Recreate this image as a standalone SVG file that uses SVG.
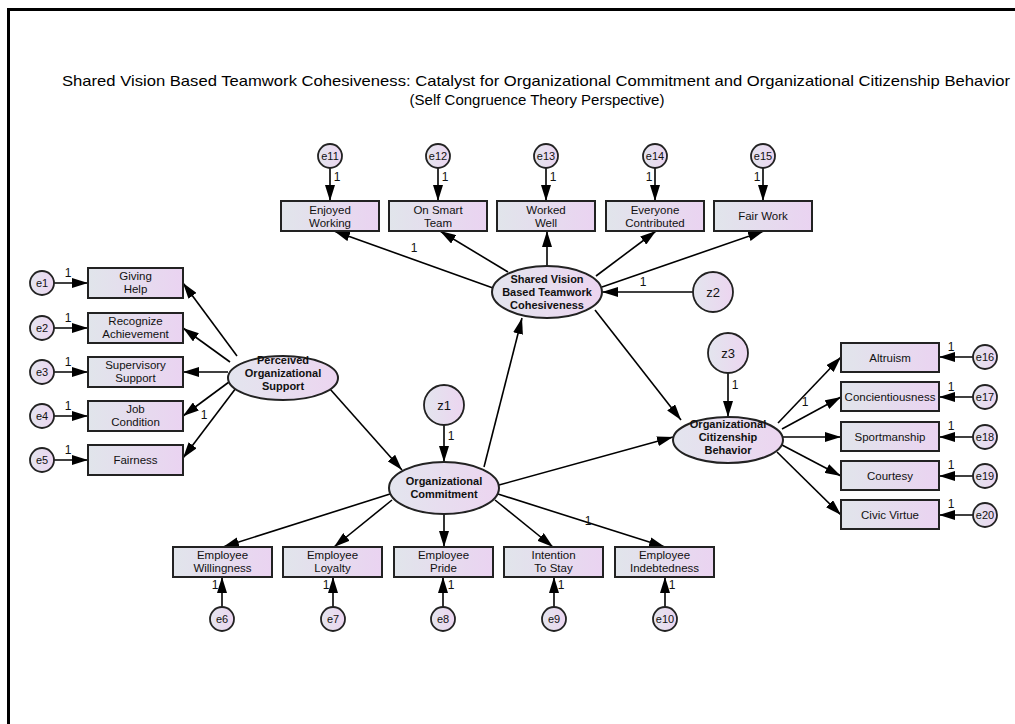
<svg xmlns="http://www.w3.org/2000/svg" width="1015" height="724" viewBox="0 0 1015 724">
<defs>
<linearGradient id="gBox" x1="0" y1="0" x2="1" y2="0">
<stop offset="0" stop-color="#e1e5eb"/>
<stop offset="1" stop-color="#ead3f1"/>
</linearGradient>
<linearGradient id="gEll" x1="0" y1="0" x2="1" y2="0">
<stop offset="0" stop-color="#e3e5ee"/>
<stop offset="1" stop-color="#ecd5f0"/>
</linearGradient>
<marker id="ah" markerUnits="userSpaceOnUse" markerWidth="16" markerHeight="10" refX="16" refY="5" orient="auto">
<path d="M0,0 L16,5 L0,10 z" fill="#000"/>
</marker>
<style>
.box{fill:url(#gBox);stroke:#222;stroke-width:2}
.lat{fill:url(#gEll);stroke:#222;stroke-width:2}
.err{fill:url(#gEll);stroke:#222;stroke-width:1.8}
.conn line{stroke:#000;stroke-width:1.6;marker-end:url(#ah)}
text{font-family:"Liberation Sans",Arial,sans-serif;fill:#111;text-anchor:middle}
.t{font-size:11.5px}
.b{font-size:11px;font-weight:bold}
.e{font-size:11px}
.z{font-size:13px}
.one{font-size:12px}
.title{font-size:15px;fill:#000}
</style>
</defs>
<rect width="1015" height="724" fill="#fff"/>
<path d="M8.5,724 V9.5 H1015" fill="none" stroke="#000" stroke-width="3"/>
<g id="title">
<text class="title" x="536" y="86" textLength="948" lengthAdjust="spacingAndGlyphs">Shared Vision Based Teamwork Cohesiveness: Catalyst for Organizational Commitment and Organizational Citizenship Behavior</text>
<text class="title" x="537" y="105">(Self Congruence Theory Perspective)</text>
</g>
<g id="connectors" class="conn">
<line x1="237" y1="356" x2="183" y2="283"/>
<line x1="230" y1="362" x2="183" y2="328"/>
<line x1="228" y1="372" x2="183" y2="372"/>
<line x1="229" y1="382" x2="183" y2="416"/>
<line x1="236" y1="388" x2="183" y2="458"/>
<line x1="330" y1="389" x2="402" y2="470"/>
<line x1="484" y1="467" x2="522" y2="318"/>
<line x1="499" y1="485" x2="673" y2="437"/>
<line x1="390" y1="494" x2="223" y2="547"/>
<line x1="392" y1="500" x2="334" y2="547"/>
<line x1="444" y1="514" x2="444" y2="547"/>
<line x1="495" y1="500" x2="553" y2="547"/>
<line x1="498" y1="494" x2="665" y2="547"/>
<line x1="493" y1="288" x2="334" y2="231"/>
<line x1="508" y1="272" x2="440" y2="231"/>
<line x1="547" y1="266" x2="547" y2="231"/>
<line x1="596" y1="276" x2="656" y2="231"/>
<line x1="602" y1="287" x2="764" y2="231"/>
<line x1="595" y1="310" x2="681" y2="420"/>
<line x1="693" y1="292" x2="602" y2="292"/>
<line x1="444" y1="425" x2="444" y2="462"/>
<line x1="728" y1="373" x2="728" y2="417"/>
<line x1="778" y1="423" x2="841" y2="357"/>
<line x1="782" y1="429" x2="841" y2="397"/>
<line x1="783" y1="437" x2="841" y2="437"/>
<line x1="782" y1="445" x2="841" y2="476"/>
<line x1="777" y1="452" x2="841" y2="515"/>
<line x1="330" y1="168" x2="330" y2="201"/>
<line x1="438" y1="168" x2="438" y2="201"/>
<line x1="546" y1="168" x2="546" y2="201"/>
<line x1="655" y1="168" x2="655" y2="201"/>
<line x1="763" y1="168" x2="763" y2="201"/>
<line x1="54" y1="283" x2="88" y2="283"/>
<line x1="54" y1="328" x2="88" y2="328"/>
<line x1="54" y1="372" x2="88" y2="372"/>
<line x1="54" y1="416" x2="88" y2="416"/>
<line x1="54" y1="460" x2="88" y2="460"/>
<line x1="973" y1="357" x2="939" y2="357"/>
<line x1="973" y1="397" x2="939" y2="397"/>
<line x1="973" y1="437" x2="939" y2="437"/>
<line x1="973" y1="476" x2="939" y2="476"/>
<line x1="973" y1="515" x2="939" y2="515"/>
<line x1="222" y1="607" x2="222" y2="577"/>
<line x1="333" y1="607" x2="333" y2="577"/>
<line x1="443" y1="607" x2="443" y2="577"/>
<line x1="554" y1="607" x2="554" y2="577"/>
<line x1="665" y1="607" x2="665" y2="577"/>
</g>
<g id="weights" class="one">
<text class="one" x="414" y="252">1</text>
<text class="one" x="643" y="286">1</text>
<text class="one" x="204" y="419">1</text>
<text class="one" x="451" y="440">1</text>
<text class="one" x="588" y="525">1</text>
<text class="one" x="735" y="389">1</text>
<text class="one" x="805" y="406">1</text>
<text class="one" x="337" y="181">1</text>
<text class="one" x="445" y="181">1</text>
<text class="one" x="553" y="181">1</text>
<text class="one" x="649" y="181">1</text>
<text class="one" x="757" y="181">1</text>
<text class="one" x="68" y="277">1</text>
<text class="one" x="68" y="322">1</text>
<text class="one" x="68" y="366">1</text>
<text class="one" x="68" y="410">1</text>
<text class="one" x="68" y="454">1</text>
<text class="one" x="951" y="351">1</text>
<text class="one" x="951" y="391">1</text>
<text class="one" x="951" y="430">1</text>
<text class="one" x="951" y="469">1</text>
<text class="one" x="951" y="508">1</text>
<text class="one" x="215" y="589">1</text>
<text class="one" x="326" y="589">1</text>
<text class="one" x="451" y="589">1</text>
<text class="one" x="561" y="589">1</text>
<text class="one" x="672" y="589">1</text>
</g>
<g id="e11"><circle class="err" cx="330" cy="156" r="12"/><text class="e" x="330" y="160">e11</text></g>
<g id="e12"><circle class="err" cx="438" cy="156" r="12"/><text class="e" x="438" y="160">e12</text></g>
<g id="e13"><circle class="err" cx="546" cy="156" r="12"/><text class="e" x="546" y="160">e13</text></g>
<g id="e14"><circle class="err" cx="655" cy="156" r="12"/><text class="e" x="655" y="160">e14</text></g>
<g id="e15"><circle class="err" cx="763" cy="156" r="12"/><text class="e" x="763" y="160">e15</text></g>
<g id="enjoyed"><rect class="box" x="281" y="201" width="98" height="30"/><text class="t" x="330" y="214">Enjoyed</text><text class="t" x="330" y="227">Working</text></g>
<g id="smart"><rect class="box" x="389" y="201" width="98" height="30"/><text class="t" x="438" y="214">On Smart</text><text class="t" x="438" y="227">Team</text></g>
<g id="worked"><rect class="box" x="497" y="201" width="98" height="30"/><text class="t" x="546" y="214">Worked</text><text class="t" x="546" y="227">Well</text></g>
<g id="everyone"><rect class="box" x="606" y="201" width="98" height="30"/><text class="t" x="655" y="214">Everyone</text><text class="t" x="655" y="227">Contributed</text></g>
<g id="fairwork"><rect class="box" x="714" y="201" width="98" height="30"/><text class="t" x="763" y="220">Fair Work</text></g>
<g id="e1"><circle class="err" cx="42" cy="283" r="12"/><text class="e" x="42" y="287">e1</text></g>
<g id="e2"><circle class="err" cx="42" cy="328" r="12"/><text class="e" x="42" y="332">e2</text></g>
<g id="e3"><circle class="err" cx="42" cy="372" r="12"/><text class="e" x="42" y="376">e3</text></g>
<g id="e4"><circle class="err" cx="42" cy="416" r="12"/><text class="e" x="42" y="420">e4</text></g>
<g id="e5"><circle class="err" cx="42" cy="460" r="12"/><text class="e" x="42" y="464">e5</text></g>
<g id="giving"><rect class="box" x="88" y="268" width="95" height="30"/><text class="t" x="135.5" y="280">Giving</text><text class="t" x="135.5" y="293">Help</text></g>
<g id="recognize"><rect class="box" x="88" y="313" width="95" height="30"/><text class="t" x="135.5" y="325">Recognize</text><text class="t" x="135.5" y="338">Achievement</text></g>
<g id="supervisory"><rect class="box" x="88" y="357" width="95" height="30"/><text class="t" x="135.5" y="369">Supervisory</text><text class="t" x="135.5" y="382">Support</text></g>
<g id="job"><rect class="box" x="88" y="401" width="95" height="30"/><text class="t" x="135.5" y="413">Job</text><text class="t" x="135.5" y="426">Condition</text></g>
<g id="fairness"><rect class="box" x="88" y="445" width="95" height="30"/><text class="t" x="135.5" y="464">Fairness</text></g>
<g id="pos"><ellipse class="lat" cx="283" cy="378" rx="55" ry="22"/><text class="b" x="283" y="364">Perceived</text><text class="b" x="283" y="377">Organizational</text><text class="b" x="283" y="390">Support</text></g>
<g id="svbtc"><ellipse class="lat" cx="547" cy="292" rx="55" ry="26"/><text class="b" x="547" y="283">Shared Vision</text><text class="b" x="547" y="296">Based Teamwork</text><text class="b" x="547" y="309">Cohesiveness</text></g>
<g id="z2"><circle class="err" cx="713" cy="292" r="20"/><text class="z" x="713" y="297">z2</text></g>
<g id="z3"><circle class="err" cx="728" cy="353" r="20"/><text class="z" x="728" y="358">z3</text></g>
<g id="z1"><circle class="err" cx="444" cy="405" r="20"/><text class="z" x="444" y="410">z1</text></g>
<g id="oc"><ellipse class="lat" cx="444" cy="488" rx="55" ry="26"/><text class="b" x="444" y="485">Organizational</text><text class="b" x="444" y="498">Commitment</text></g>
<g id="ocb"><ellipse class="lat" cx="728" cy="440" rx="55" ry="23"/><text class="b" x="728" y="428">Organizational</text><text class="b" x="728" y="441">Citizenship</text><text class="b" x="728" y="454">Behavior</text></g>
<g id="altruism"><rect class="box" x="841" y="343" width="98" height="29"/><text class="t" x="890" y="361.5">Altruism</text></g>
<g id="concient"><rect class="box" x="841" y="382" width="98" height="29"/><text class="t" x="890" y="400.5">Concientiousness</text></g>
<g id="sport"><rect class="box" x="841" y="422" width="98" height="29"/><text class="t" x="890" y="440.5">Sportmanship</text></g>
<g id="courtesy"><rect class="box" x="841" y="461" width="98" height="29"/><text class="t" x="890" y="479.5">Courtesy</text></g>
<g id="civic"><rect class="box" x="841" y="500" width="98" height="29"/><text class="t" x="890" y="518.5">Civic Virtue</text></g>
<g id="e16"><circle class="err" cx="985" cy="357" r="12"/><text class="e" x="985" y="361">e16</text></g>
<g id="e17"><circle class="err" cx="985" cy="397" r="12"/><text class="e" x="985" y="401">e17</text></g>
<g id="e18"><circle class="err" cx="985" cy="437" r="12"/><text class="e" x="985" y="441">e18</text></g>
<g id="e19"><circle class="err" cx="985" cy="476" r="12"/><text class="e" x="985" y="480">e19</text></g>
<g id="e20"><circle class="err" cx="985" cy="515" r="12"/><text class="e" x="985" y="519">e20</text></g>
<g id="willing"><rect class="box" x="173" y="547" width="99" height="30"/><text class="t" x="222.5" y="559">Employee</text><text class="t" x="222.5" y="572">Willingness</text></g>
<g id="loyalty"><rect class="box" x="283" y="547" width="99" height="30"/><text class="t" x="332.5" y="559">Employee</text><text class="t" x="332.5" y="572">Loyalty</text></g>
<g id="pride"><rect class="box" x="394" y="547" width="99" height="30"/><text class="t" x="443.5" y="559">Employee</text><text class="t" x="443.5" y="572">Pride</text></g>
<g id="intention"><rect class="box" x="504" y="547" width="99" height="30"/><text class="t" x="553.5" y="559">Intention</text><text class="t" x="553.5" y="572">To Stay</text></g>
<g id="indebt"><rect class="box" x="615" y="547" width="99" height="30"/><text class="t" x="664.5" y="559">Employee</text><text class="t" x="664.5" y="572">Indebtedness</text></g>
<g id="e6"><circle class="err" cx="222" cy="619" r="12"/><text class="e" x="222" y="623">e6</text></g>
<g id="e7"><circle class="err" cx="333" cy="619" r="12"/><text class="e" x="333" y="623">e7</text></g>
<g id="e8"><circle class="err" cx="443" cy="619" r="12"/><text class="e" x="443" y="623">e8</text></g>
<g id="e9"><circle class="err" cx="554" cy="619" r="12"/><text class="e" x="554" y="623">e9</text></g>
<g id="e10"><circle class="err" cx="665" cy="619" r="12"/><text class="e" x="665" y="623">e10</text></g>
</svg>
